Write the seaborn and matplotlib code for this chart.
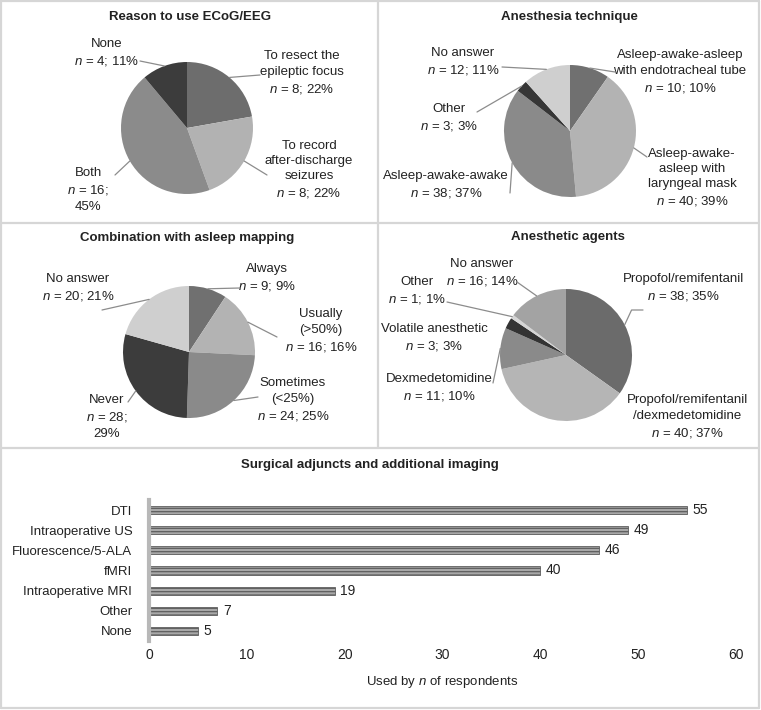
import matplotlib
matplotlib.use("Agg")
import matplotlib.pyplot as plt
import numpy as np
import pandas as pd
import seaborn as sns
from matplotlib.lines import Line2D

# ---------------- data ----------------
ecog_labels = ["To resect the\nepileptic focus", "To record\nafter-discharge\nseizures", "Both", "None"]
ecog_n = [8, 8, 16, 4]
ecog_pct = [22, 22, 45, 11]

tech_labels = ["Asleep-awake-asleep\nwith endotracheal tube", "Asleep-awake-\nasleep with\nlaryngeal mask",
               "Asleep-awake-awake", "Other", "No answer"]
tech_n = [10, 40, 38, 3, 12]
tech_pct = [10, 39, 37, 3, 11]

asleep_labels = ["Always", "Usually\n(>50%)", "Sometimes\n(<25%)", "Never", "No answer"]
asleep_n = [9, 16, 24, 28, 20]
asleep_pct = [9, 16, 25, 29, 21]

agent_labels = ["Propofol/remifentanil", "Propofol/remifentanil\n/dexmedetomidine", "Dexmedetomidine",
                "Volatile anesthetic", "Other", "No answer"]
agent_n = [38, 40, 11, 3, 1, 16]
agent_pct = [35, 37, 10, 3, 1, 14]

adjunct_labels = ["DTI", "Intraoperative US", "Fluorescence/5-ALA", "fMRI", "Intraoperative MRI", "Other", "None"]
adjunct_counts = [55, 49, 46, 40, 19, 7, 5]

# ---------------- style ----------------
sns.set_theme(style="white")
plt.rcParams["font.family"] = ["Liberation Sans", "DejaVu Sans"]
plt.rcParams["mathtext.fontset"] = "custom"
plt.rcParams["mathtext.it"] = "Liberation Sans:italic"
plt.rcParams["mathtext.rm"] = "Liberation Sans"
plt.rcParams["hatch.linewidth"] = 0.9

FS = 9.5
TXT = "#222222"
LINE = "#8c8c8c"

W, H = 761, 710
fig = plt.figure(figsize=(W / 100, H / 100), dpi=100)
fig.patch.set_facecolor("white")


def frame_line(x0, y0, x1, y1):
    fig.add_artist(Line2D([x0 / W, x1 / W], [1 - y0 / H, 1 - y1 / H], color="#d6d6d6", lw=1.6,
                          transform=fig.transFigure))


frame_line(1, 1, 759, 1)
frame_line(1, 708, 759, 708)
frame_line(1, 1, 1, 708)
frame_line(759, 1, 759, 708)
frame_line(1, 223, 759, 223)
frame_line(1, 448, 759, 448)
frame_line(378, 1, 378, 448)


def pie_panel(rect, center, r, title, title_xy, labels, ns, pcts, colors, specs):
    x0, y0, x1, y1 = rect
    cx, cy = center
    ax = fig.add_axes([x0 / W, 1 - y1 / H, (x1 - x0) / W, (y1 - y0) / H])
    wedges, _ = ax.pie(ns, colors=colors, startangle=90, counterclock=False, radius=1,
                       wedgeprops=dict(linewidth=0))
    ax.set_xlim((x0 - cx) / r, (x1 - cx) / r)
    ax.set_ylim((cy - y1) / r, (cy - y0) / r)
    ax.set_aspect("auto")
    ax.axis("off")

    def P(px, py):
        return ((px - cx) / r, (cy - py) / r)

    fig.text(title_xy[0] / W, 1 - title_xy[1] / H, title, ha="center", va="center",
             fontsize=FS, fontweight="bold", color=TXT)
    for w, lab, n, pct, (tpos, lend, sep, conn) in zip(wedges, labels, ns, pcts, specs):
        text = f"{lab}\n$n$ = {n};{sep}{pct}%"
        ax.text(*P(*tpos), text, ha="center", va="center", fontsize=FS, color=TXT, linespacing=1.38)
        if lend is not None:
            mid = np.deg2rad((w.theta1 + w.theta2) / 2)
            ax.annotate("", xy=(np.cos(mid), np.sin(mid)), xytext=P(*lend),
                        arrowprops=dict(arrowstyle="-", color=LINE, lw=0.9,
                                        shrinkA=0, shrinkB=0, connectionstyle=conn))
    return ax


ARC = "arc3"
# panel 1
pie_panel((2, 24, 377, 222), (187, 128), 66, "Reason to use ECoG/EEG", (190, 17),
          ecog_labels, ecog_n, ecog_pct,
          ["#6d6d6d", "#b2b2b2", "#8b8b8b", "#3c3c3c"],
          [((302, 73), (260, 75), " ", ARC),
           ((309, 170), (267, 175), " ", ARC),
           ((88, 190), (115, 175), "\n", ARC),
           ((107, 53), (140, 61), " ", ARC)])

# panel 2
pie_panel((380, 24, 758, 222), (570, 131), 66, "Anesthesia technique", (569, 17),
          tech_labels, tech_n, tech_pct,
          ["#707070", "#b3b3b3", "#8a8a8a", "#363636", "#cfcfcf"],
          [((680, 72), (615, 72), " ", ARC),
           ((692, 178), (647, 157), " ", ARC),
           ((446, 185), (510, 193), " ", ARC),
           ((449, 118), (477, 112), " ", ARC),
           ((463, 62), (502, 67), " ", ARC)])

# panel 3
pie_panel((2, 248, 377, 447), (189, 352), 66, "Combination with asleep mapping", (187, 238),
          asleep_labels, asleep_n, asleep_pct,
          ["#707070", "#b3b3b3", "#8a8a8a", "#3c3c3c", "#cfcfcf"],
          [((267, 278), (240, 288), " ", ARC),
           ((321, 331), (277, 337), " ", ARC),
           ((293, 400), (258, 397), " ", ARC),
           ((107, 417), (128, 402), "\n", ARC),
           ((78, 288), (102, 310), " ", ARC)])

# panel 4
pie_panel((380, 248, 758, 447), (566, 355), 66, "Anesthetic agents", (568, 237),
          agent_labels, agent_n, agent_pct,
          ["#6b6b6b", "#b5b5b5", "#8a8a8a", "#333333", "#d5d5d5", "#a3a3a3"],
          [((683, 288), (643, 310), " ", "angle,angleA=0,angleB=65,rad=0"),
           ((687, 417), None, " ", ARC),
           ((439, 388), (493, 383), " ", ARC),
           ((434, 338), None, " ", ARC),
           ((417, 291), (447, 302), " ", ARC),
           ((482, 273), (517, 282), " ", ARC)])

# ---------------- bar panel ----------------
fig.text(370 / W, 1 - 465 / H, "Surgical adjuncts and additional imaging", ha="center", va="center",
         fontsize=FS, fontweight="bold", color=TXT)

bx0, bx1, by0, by1 = 149, 736, 500, 641
axb = fig.add_axes([bx0 / W, 1 - by1 / H, (bx1 - bx0) / W, (by1 - by0) / H])
df = pd.DataFrame({"label": adjunct_labels, "count": adjunct_counts})
sns.barplot(data=df, y="label", x="count", orient="h", color="#a8a8a8", width=0.4, ax=axb,
            saturation=1)
for p in axb.patches:
    p.set_hatch("-----")
    p.set_edgecolor("#5e5e5e")
    p.set_linewidth(0.6)
axb.bar_label(axb.containers[0], padding=4, fontsize=FS + 0.5, color=TXT)
axb.set_xlim(0, 60)
axb.set_ylim(6.5, -0.5)
axb.set_xticks(range(0, 61, 10))
axb.set_ylabel("")
axb.set_xlabel("Used by $n$ of respondents", fontsize=FS, color=TXT, labelpad=9)
axb.tick_params(axis="both", length=0, labelsize=FS + 0.5, colors=TXT)
axb.tick_params(axis="y", labelsize=FS, pad=12)
axb.tick_params(axis="x", pad=5)
for s in ["top", "right", "bottom"]:
    axb.spines[s].set_visible(False)
axb.spines["left"].set_color("#b8b8b8")
axb.spines["left"].set_linewidth(3)
axb.set_facecolor("none")

fig.savefig("out.png", dpi=100, facecolor="white")
